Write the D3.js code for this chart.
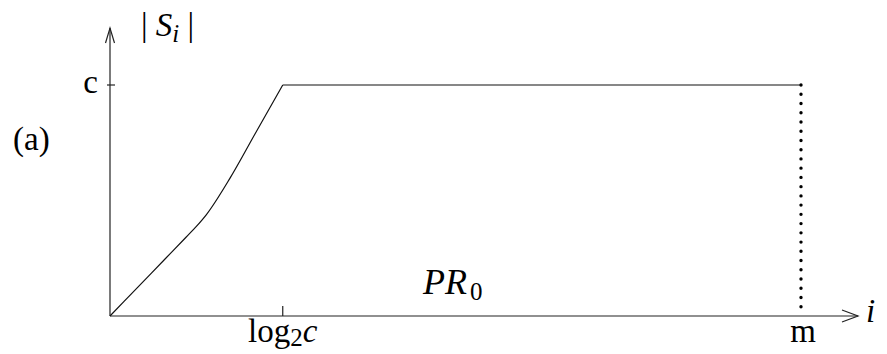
<!DOCTYPE html>
<html lang="en">
<head>
  <meta charset="UTF-8">
  <title>|S_i| vs i</title>
  <script src="https://d3js.org/d3.v7.min.js"></script>
  <style>
    body { margin: 0; background: #fff; }
    .axisline { stroke: #222; stroke-width: 1.2; fill: none; }
    .curve { stroke: #111; stroke-width: 1.2; fill: none; }
  </style>
</head>
<body>
  <svg width="887" height="354" font-family="Liberation Serif, Times New Roman, serif"></svg>

  <script>
    // rising part of |S_i| (i in steps, value as fraction of c)
    const riseI = [0, 4, 8, 11, 12.5, 13.9, 17.37, 20.98, 25];
    const riseS = [0, 0.124, 0.248, 0.341, 0.388, 0.437, 0.597, 0.788, 1];
    // plateau at c from log2c to m
    const flatI = [25, 100];
    const flatS = [1, 1];
    // ticks
    const xTickValues = [25, 100];
    const yTickValues = [1];

    const svg = d3.select("svg");

    const x = d3.scaleLinear().domain([0, 100]).range([110, 801]);
    const y = d3.scaleLinear().domain([0, 1]).range([316, 85]);

    const xEnd = 858, yTop = 28;

    // axes with open arrowheads
    svg.append("line").attr("class", "axisline")
      .attr("x1", x(0)).attr("y1", y(0)).attr("x2", xEnd).attr("y2", y(0));
    svg.append("path").attr("class", "axisline")
      .attr("d", `M${xEnd - 16},${y(0) - 6}L${xEnd},${y(0)}L${xEnd - 16},${y(0) + 6}`);
    svg.append("line").attr("class", "axisline")
      .attr("x1", x(0)).attr("y1", y(0)).attr("x2", x(0)).attr("y2", yTop);
    svg.append("path").attr("class", "axisline")
      .attr("d", `M${x(0) - 4.5},${yTop + 15}L${x(0)},${yTop}L${x(0) + 4.5},${yTop + 15}`);

    // tick at c on the y axis
    svg.selectAll(".ytick").data(yTickValues).join("line")
      .attr("class", "axisline ytick")
      .attr("x1", x(0) - 3).attr("x2", x(0) + 5)
      .attr("y1", d => y(d)).attr("y2", d => y(d));

    // tick at log2c on the x axis
    svg.selectAll(".xtick").data(xTickValues.slice(0, 1)).join("line")
      .attr("class", "axisline xtick")
      .attr("x1", d => x(d)).attr("x2", d => x(d))
      .attr("y1", y(0)).attr("y2", y(0) - 10);

    const line = d3.line().x(d => x(d[0])).y(d => y(d[1]));

    svg.append("path").attr("class", "curve")
      .attr("d", line.curve(d3.curveMonotoneX)(d3.zip(riseI, riseS)));
    svg.append("path").attr("class", "curve")
      .attr("d", d3.line().x(d => x(d[0])).y(d => y(d[1]))(d3.zip(flatI, flatS)));

    // dotted drop at m
    svg.append("line")
      .attr("x1", x(100)).attr("x2", x(100))
      .attr("y1", y(1)).attr("y2", y(0))
      .attr("stroke", "#000").attr("stroke-width", 3.4)
      .attr("stroke-linecap", "round")
      .attr("stroke-dasharray", `0 ${(y(0) - y(1)) / 25}`);

    // labels
    const fs = 33;
    svg.append("text").attr("x", 98).attr("y", y(1) + 8)
      .attr("text-anchor", "end").attr("font-size", fs).text("c");

    const lg = svg.append("text").attr("x", x(xTickValues[0])).attr("y", 342)
      .attr("text-anchor", "middle").attr("font-size", fs);
    lg.append("tspan").text("log");
    lg.append("tspan").attr("font-size", 25).attr("dy", 4).text("2");
    lg.append("tspan").attr("font-style", "italic").attr("dy", -4).text("c");

    svg.append("text").attr("x", x(xTickValues[1]) + 2).attr("y", 342)
      .attr("text-anchor", "middle").attr("font-size", fs).text("m");

    svg.append("text").attr("x", 866).attr("y", 322)
      .attr("font-size", fs).attr("font-style", "italic").text("i");

    svg.append("text").attr("x", 13).attr("y", 150)
      .attr("font-size", fs).text("(a)");

    const sl = svg.append("text").attr("x", 141).attr("y", 36).attr("font-size", fs);
    sl.append("tspan").text("| ");
    sl.append("tspan").attr("font-style", "italic").text("S");
    sl.append("tspan").attr("font-style", "italic").attr("font-size", 25).attr("dy", 6).text("i");
    sl.append("tspan").attr("dy", -6).text(" |");

    const pr = svg.append("text").attr("x", 423).attr("y", 294).attr("font-size", 36);
    pr.append("tspan").attr("font-style", "italic").text("PR");
    pr.append("tspan").attr("font-size", 25).attr("dx", 3).attr("dy", 6).text("0");
  </script>
</body>
</html>
